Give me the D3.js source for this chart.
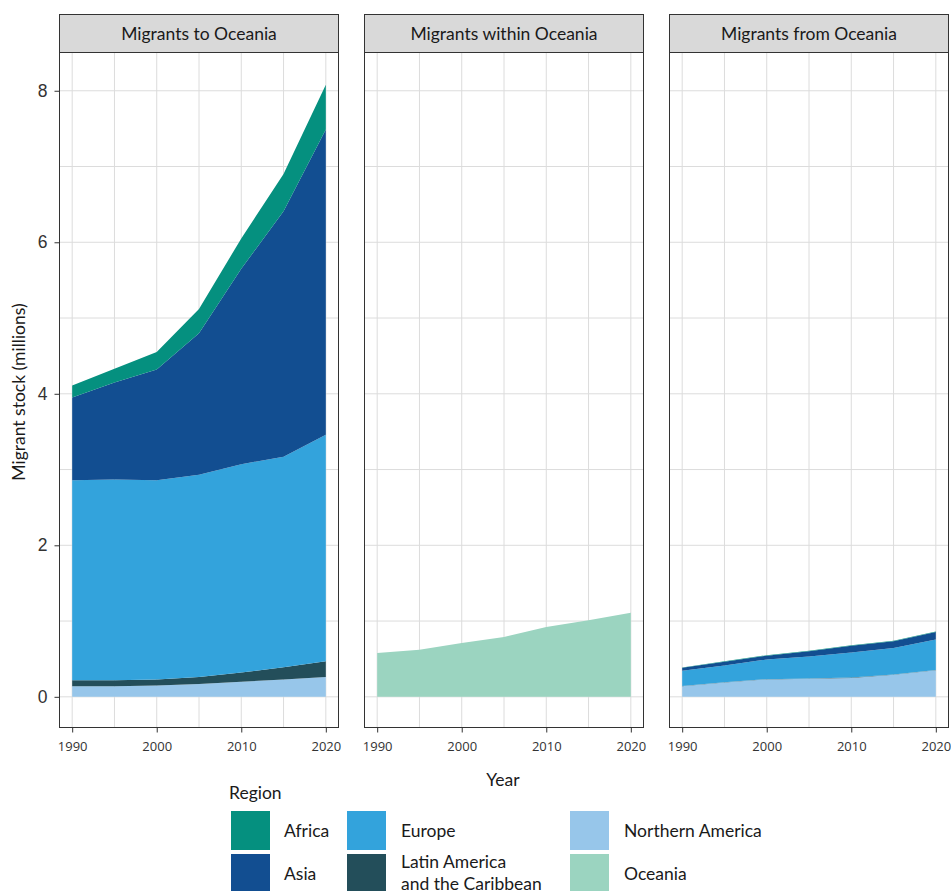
<!DOCTYPE html>
<html><head><meta charset="utf-8">
<script src="https://cdn.jsdelivr.net/npm/d3@7"></script>
<style>body{margin:0;background:#fff}svg{display:block;font-family:Lato,"Open Sans",sans-serif}</style>
</head><body><svg id="c" width="951" height="891"></svg>
<script>
const years = [1990, 1995, 2000, 2005, 2010, 2015, 2020];
const regions = ["Africa", "Asia", "Europe", "Latin America and the Caribbean", "Northern America", "Oceania"];
const colors = ["#05907f", "#124e91", "#33a3dc", "#234e5a", "#97c6ea", "#9bd4c0"];
const panels = ["Migrants to Oceania", "Migrants within Oceania", "Migrants from Oceania"];
// values in millions, per panel per region
const toAfrica = [0.16, 0.18, 0.23, 0.32, 0.40, 0.49, 0.59];
const toAsia = [1.09, 1.28, 1.46, 1.87, 2.58, 3.24, 4.03];
const toEurope = [2.64, 2.65, 2.63, 2.67, 2.75, 2.78, 2.99];
const toLatin = [0.08, 0.08, 0.08, 0.09, 0.12, 0.16, 0.21];
const toNorthAm = [0.14, 0.14, 0.15, 0.17, 0.20, 0.23, 0.26];
const toOceania = [0, 0, 0, 0, 0, 0, 0];
const withinOceania = [0.58, 0.62, 0.71, 0.79, 0.92, 1.01, 1.11];
const fromAfrica = [0.005, 0.005, 0.006, 0.006, 0.007, 0.007, 0.008];
const fromAsia = [0.04, 0.05, 0.05, 0.07, 0.09, 0.09, 0.10];
const fromEurope = [0.20, 0.22, 0.26, 0.29, 0.33, 0.35, 0.40];
const fromLatin = [0.003, 0.003, 0.003, 0.003, 0.004, 0.004, 0.005];
const fromNorthAm = [0.14, 0.19, 0.23, 0.24, 0.25, 0.29, 0.35];
const zeros = [0, 0, 0, 0, 0, 0, 0];
const yTicks = [0, 2, 4, 6, 8];
const xTicks = [1990, 2000, 2010, 2020];

const panelData = [
  {Africa: toAfrica, Asia: toAsia, Europe: toEurope, "Latin America and the Caribbean": toLatin, "Northern America": toNorthAm, Oceania: toOceania},
  {Africa: zeros, Asia: zeros, Europe: zeros, "Latin America and the Caribbean": zeros, "Northern America": zeros, Oceania: withinOceania},
  {Africa: fromAfrica, Asia: fromAsia, Europe: fromEurope, "Latin America and the Caribbean": fromLatin, "Northern America": fromNorthAm, Oceania: zeros}
];

const svg = d3.select("#c");
const pTop = 52.5, pBottom = 727.5, pw = 279, lefts = [59.5, 364.5, 669.5];
const color = d3.scaleOrdinal(regions, colors);
const y = d3.scaleLinear().domain([-0.405, 8.505]).range([pBottom, pTop]);
const gridC = "#dcdcdc", dark = "#333";
const txtSize = 17.5;

// stacking order: Africa on top, Oceania at bottom
const stackKeys = regions.slice().reverse();

panels.forEach((title, i) => {
  const x = d3.scaleLinear().domain([1988.5, 2021.5]).range([lefts[i], lefts[i] + pw]);
  const g = svg.append("g");
  // grid
  [1, 3, 5, 7].concat(yTicks).forEach(v => g.append("line").attr("x1", lefts[i]).attr("x2", lefts[i] + pw)
    .attr("y1", y(v)).attr("y2", y(v)).attr("stroke", gridC).attr("stroke-width", 1));
  [1995, 2005, 2015].concat(xTicks).forEach(v => g.append("line").attr("y1", pTop).attr("y2", pBottom)
    .attr("x1", x(v)).attr("x2", x(v)).attr("stroke", gridC).attr("stroke-width", 1));
  // data
  const rows = years.map((yr, k) => { const r = {year: yr}; regions.forEach(rg => r[rg] = panelData[i][rg][k]); return r; });
  const series = d3.stack().keys(stackKeys)(rows);
  const area = d3.area().x(d => x(d.data.year)).y0(d => y(d[0])).y1(d => y(d[1]));
  g.selectAll("path.a").data(series.filter(s => s.some(d => d[1] - d[0] > 0))).join("path")
    .attr("d", area).attr("fill", s => color(s.key));
  // border
  g.append("rect").attr("x", lefts[i]).attr("y", pTop).attr("width", pw).attr("height", pBottom - pTop)
    .attr("fill", "none").attr("stroke", dark).attr("stroke-width", 1);
  // strip
  g.append("rect").attr("x", lefts[i]).attr("y", 14.5).attr("width", pw).attr("height", pTop - 14.5)
    .attr("fill", "#d9d9d9").attr("stroke", dark).attr("stroke-width", 1);
  svg.append("text").attr("x", lefts[i] + pw / 2).attr("y", 39.5).attr("text-anchor", "middle")
    .attr("font-size", txtSize).attr("fill", "#1a1a1a").text(title);
  // x axis
  const ax = svg.append("g").attr("transform", `translate(0,${pBottom})`)
    .call(d3.axisBottom(x).tickValues(xTicks).tickFormat(d3.format("d")).tickSize(5).tickPadding(9));
  ax.select(".domain").remove();
  ax.selectAll("line").attr("stroke", dark);
  ax.selectAll("text").attr("font-size", 13).attr("fill", "#333").attr("font-family", "'Open Sans',sans-serif");
  if (i === 0) {
    const ay = svg.append("g").attr("transform", `translate(${lefts[0]},0)`)
      .call(d3.axisLeft(y).tickValues(yTicks).tickSize(5).tickPadding(7));
    ay.select(".domain").remove();
    ay.selectAll("line").attr("stroke", dark);
    ay.selectAll("text").attr("font-size", 17.5).attr("fill", "#333");
  }
});

svg.append("text").attr("x", 503).attr("y", 786).attr("text-anchor", "middle").attr("font-size", txtSize).attr("fill", "#1a1a1a").text("Year");
svg.append("text").attr("transform", "translate(25,392) rotate(-90)").attr("text-anchor", "middle")
  .attr("font-size", txtSize).attr("fill", "#1a1a1a").text("Migrant stock (millions)");

// legend
svg.append("text").attr("x", 229).attr("y", 799).attr("font-size", txtSize).attr("fill", "#1a1a1a").text("Region");
const legendCols = [[231, 284], [347, 401], [570, 624]];
regions.forEach((r, k) => {
  const col = Math.floor(k / 2), row = k % 2;
  const [kx, tx] = legendCols[col];
  const ky = 811 + row * 43;
  svg.append("rect").attr("x", kx).attr("y", ky).attr("width", 39).attr("height", 39).attr("fill", color(r));
  const lines = r === "Latin America and the Caribbean" ? ["Latin America", "and the Caribbean"] : [r];
  lines.forEach((ln, j) => {
    svg.append("text").attr("x", tx).attr("y", lines.length === 1 ? ky + 26 : ky + 14 + j * 21.5)
      .attr("font-size", txtSize).attr("fill", "#1a1a1a").text(ln);
  });
});
</script></body></html>
